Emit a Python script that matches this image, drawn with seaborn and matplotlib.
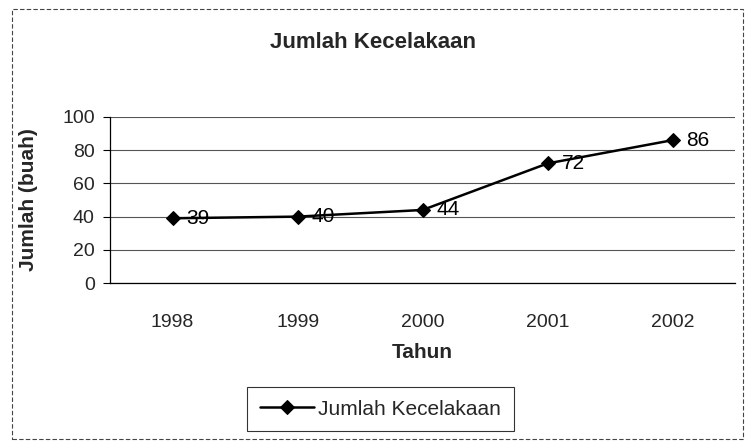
import pandas as pd
import matplotlib
matplotlib.use("Agg")
import matplotlib.pyplot as plt
import seaborn as sns
from matplotlib.patches import Rectangle

# Data
tahun = ["1998", "1999", "2000", "2001", "2002"]
jumlah = [39, 40, 44, 72, 86]
series_name = "Jumlah Kecelakaan"
y_ticks = [0, 20, 40, 60, 80, 100]

sns.set_theme(style="white")
plt.rcParams['font.family'] = ['Liberation Sans', 'DejaVu Sans']

df = pd.DataFrame({"Tahun": tahun, "Jumlah": jumlah})

fig = plt.figure(figsize=(7.46, 4.41), dpi=100)
ax = fig.add_axes([0.1475, 0.358, 0.838, 0.377])

sns.lineplot(data=df, x="Tahun", y="Jumlah", ax=ax, color="black",
             linewidth=1.8, marker="D", markersize=7.5, markeredgecolor="black",
             label=series_name)

# value labels to the right of each point
for i, v in enumerate(jumlah):
    ax.annotate(str(v), (i, v), xytext=(10, 0), textcoords="offset points",
                va="center", ha="left", fontsize=15, color="black")

ax.set_xlim(-0.5, len(tahun) - 0.5)
ax.set_ylim(0, 100)
ax.set_yticks(y_ticks)
ax.yaxis.grid(True, color="#555555", linewidth=0.8)
ax.xaxis.grid(False)

# category boundaries get the tick marks, labels stay centred
ax.set_xticks(range(len(tahun)))
ax.set_xticklabels(tahun)
ax.set_xticks([i - 0.5 for i in range(len(tahun) + 1)], minor=True)
ax.tick_params(axis="x", which="major", length=0, labelsize=14, pad=22)
ax.tick_params(axis="x", which="minor", length=5, width=0.8, color="black", direction="out")
ax.tick_params(axis="y", length=5, width=0.8, color="black", direction="out",
               labelsize=14, pad=6, left=True)

for side in ["top", "right"]:
    ax.spines[side].set_visible(False)
for side in ["left", "bottom"]:
    ax.spines[side].set_color("black")
    ax.spines[side].set_linewidth(0.9)

ax.set_xlabel("Tahun", fontsize=15, fontweight="bold")
ax.xaxis.set_label_coords(0.5, -0.42)
ax.xaxis.label.set_va("center")
ax.set_ylabel("Jumlah (buah)", fontsize=15, fontweight="bold")
ax.yaxis.set_label_coords(-0.13, 0.5)
ax.yaxis.label.set_va("center")
fig.text(0.5, 0.9025, "Jumlah Kecelakaan", ha="center", va="center",
         fontsize=16, fontweight="bold")

leg = ax.legend(loc="center", bbox_to_anchor=(0.51, 0.072),
                bbox_transform=fig.transFigure, fontsize=15, frameon=True,
                fancybox=False, handlelength=2.6, borderpad=0.6,
                handletextpad=0.2)
leg.get_frame().set_edgecolor("black")
leg.get_frame().set_linewidth(0.8)

# thin outer border of the chart area
fig.patches.append(Rectangle((0.016, 0.004), 0.98, 0.975, transform=fig.transFigure,
                             fill=False, edgecolor="#444444", linewidth=0.8,
                             linestyle=(0, (4, 2))))

fig.savefig("out.png", dpi=100)
